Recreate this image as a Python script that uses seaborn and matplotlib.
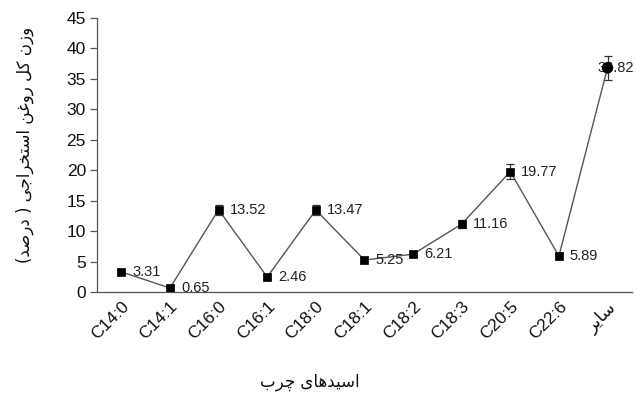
import matplotlib
matplotlib.use("Agg")
import matplotlib.pyplot as plt
import seaborn as sns
import pandas as pd

# Fatty acid categories (last one: remaining fatty acids, Persian label in shaped visual order)
categories = ["C14:0", "C14:1", "C16:0", "C16:1", "C18:0", "C18:1",
              "C18:2", "C18:3", "C20:5", "C22:6", "\uFEAE\uFBFE\uFE8E\uFEB3"]
values = [3.31, 0.65, 13.52, 2.46, 13.47, 5.25, 6.21, 11.16, 19.77, 5.89, 36.82]
errors = [0.3, 0.3, 0.8, 0.3, 0.8, 0.3, 0.3, 0.6, 1.2, 0.3, 2.0]
marker_kind = ["square"] * 10 + ["circle"]
y_ticks = [0, 5, 10, 15, 20, 25, 30, 35, 40, 45]

# Persian axis titles, written with Arabic presentation forms in visual order
x_title = "\uFE8F\uFEAE\uFB7C \uFBFC\uFE8E\uFEEB\uFEAA\uFBFF\uFEB3\uFE8D"
y_title = ("(\uFEAA\uFEBB\uFEAD\uFEA9 ) "
           "\uFBFD\uFE9F\uFE8D\uFEAE\uFEA8\uFE98\uFEB3\uFE8D "
           "\uFEE6\uFECF\uFEED\uFEAD "
           "\uFEDE\uFB90 "
           "\uFEE5\uFEAF\uFEED")

df = pd.DataFrame({"acid": categories, "percent": values,
                   "err": errors, "kind": marker_kind})

sns.set_theme(style="white")
plt.rcParams["font.family"] = ["Liberation Sans", "DejaVu Sans"]

fig = plt.figure(figsize=(6.35, 3.96), dpi=100)
ax = fig.add_axes([0.1528, 0.2626, 0.8422, 0.6919])

sns.lineplot(data=df, x="acid", y="percent", ax=ax, color="#555555",
             linewidth=1.0, sort=False, zorder=2)
ax.errorbar(df["acid"], df["percent"], yerr=df["err"], fmt="none",
            ecolor="#333333", elinewidth=0.9, capsize=3, capthick=0.9, zorder=3)
sns.scatterplot(data=df, x="acid", y="percent", style="kind",
                markers={"square": "s", "circle": "o"},
                size="kind", sizes={"square": 32, "circle": 60},
                color="black", edgecolor="black", linewidth=0.5,
                legend=False, ax=ax, zorder=4)

# value labels beside each point; the last one sits over its marker to stay in frame
for i, (v, kind) in enumerate(zip(values, marker_kind)):
    dx = -10 if kind == "circle" else 11
    ax.annotate(f"{v:.2f}", (i, v), xytext=(dx, 0), textcoords="offset pixels",
                ha="left", va="center", fontsize=10.5, color="#222222",
                annotation_clip=False, zorder=3.5)

ax.set_xlim(-0.5, len(categories) - 0.5)
ax.set_ylim(0, 45)
ax.set_yticks(y_ticks)
ax.set_yticklabels([str(t) for t in y_ticks], fontsize=12.5, color="#111111")

ax.set_xticks(range(len(categories)))
ax.set_xticklabels(categories, rotation=45, ha="right",
                   rotation_mode="anchor", fontsize=12.5, color="#111111")
ax.set_xticks([i - 0.5 for i in range(len(categories) + 1)], minor=True)
ax.tick_params(axis="x", which="major", length=0, pad=5)
ax.tick_params(axis="x", which="minor", length=5, width=0.9,
               color="#555555", direction="out")
ax.tick_params(axis="y", length=5, width=0.9, color="#555555",
               direction="out", left=True, pad=3)
labels = ax.get_xticklabels()
labels[-1].set_fontfamily("DejaVu Sans")

for s in ["top", "right"]:
    ax.spines[s].set_visible(False)
for s in ["left", "bottom"]:
    ax.spines[s].set_color("#555555")
    ax.spines[s].set_linewidth(0.9)

ax.set_xlabel("")
ax.set_ylabel("")
fig.text(310 / 635, 1 - 382 / 396, x_title, ha="center", va="center",
         fontsize=12, family="DejaVu Sans", color="#111111")
fig.text(25 / 635, 1 - 145 / 396, y_title, ha="center", va="center", rotation=90,
         fontsize=12, family="DejaVu Sans", color="#111111")

fig.savefig("out.png", dpi=100)
